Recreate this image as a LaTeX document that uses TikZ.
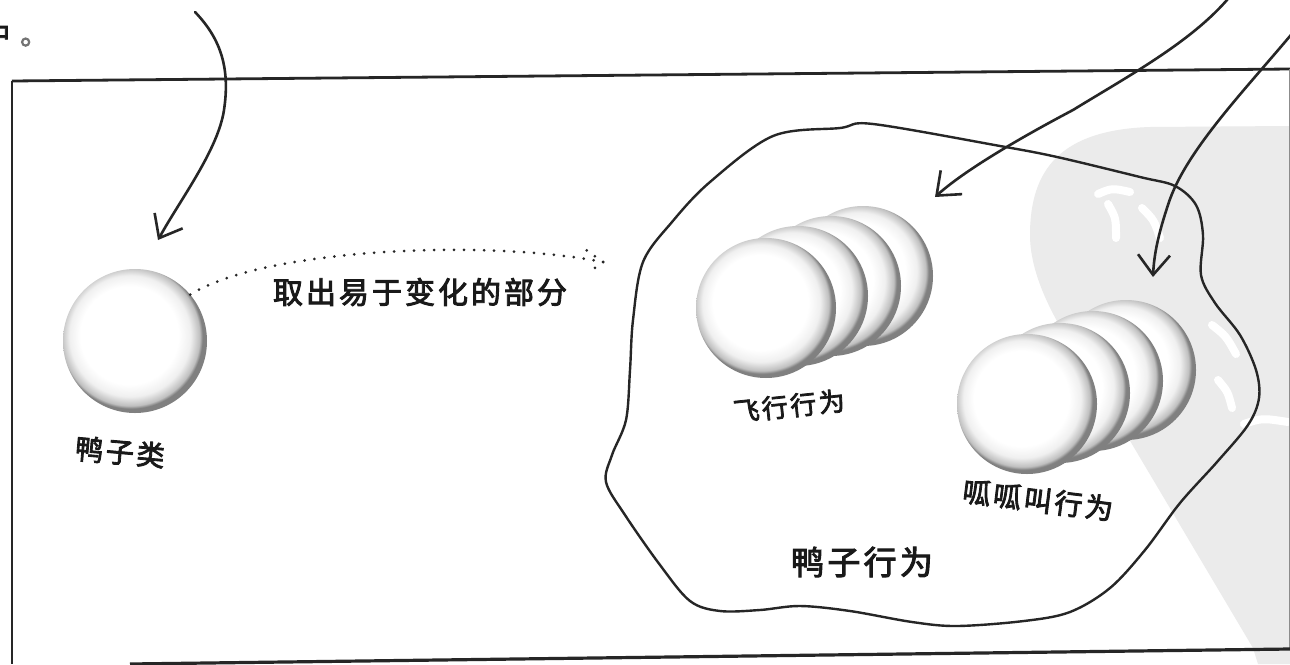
\documentclass[tikz,border=0pt]{standalone}
\usepackage{fontspec}
\newfontfamily\cjk{Noto Sans CJK SC}[LetterSpace=10, FakeBold=3]
\usetikzlibrary{arrows.meta}
\pgfdeclareradialshading{discshade}{\pgfpoint{-3bp}{3bp}}{color(0bp)=(white); color(17bp)=(white); color(21bp)=(black!6); color(24bp)=(black!25); color(25bp)=(black!50); color(50bp)=(black!50)}
\definecolor{ink}{HTML}{262626}
\definecolor{wm}{HTML}{EBEBEB}
\begin{document}
\begin{tikzpicture}[x=1pt,y=-1pt,
  inkline/.style={draw=ink, line width=2.6pt, line cap=round, line join=round},
  barbtip/.style={-{Straight Barb[length=20pt,width=32pt]}},
  dotline/.style={draw=ink, line width=3pt, line cap=round, dash pattern=on 0pt off 10pt},
  disc/.style={circle, inner sep=0pt, minimum size=140pt, shading=discshade},
  lab/.style={inner sep=0pt, text=black!90, font=\cjk\fontsize{#1}{#1}\selectfont},
  wmstroke/.style={draw=white, line width=8pt, line cap=round}]
\useasboundingbox (0,0) rectangle (1290,664);
\fill[white] (0,0) rectangle (1290,664);
% watermark
\fill[wm] (1290,126) -- (1150,127) .. controls (1060,130) and (1030,170) .. (1030,235)
  .. controls (1030,280) and (1060,330) .. (1085,365) -- (1253,648) -- (1258,664) -- (1290,664) -- cycle;
\draw[wmstroke] (1098,194) .. controls (1112,188) .. (1130,192);
\draw[wmstroke] (1108,204) .. controls (1116,218) .. (1116,238);
\draw[wmstroke] (1142,208) .. controls (1154,220) .. (1160,238);
\draw[wmstroke] (1212,325) .. controls (1226,336) .. (1236,354);
\draw[wmstroke] (1218,380) .. controls (1228,392) .. (1232,408);
\draw[wmstroke] (1244,424) .. controls (1262,418) .. (1288,422);
% frame
\coordinate (ftl) at (12,81);
\coordinate (ftr) at (1290,69);
\coordinate (fbl) at (12,664);
\coordinate (fbr) at (1290,649);
\draw[draw=ink, line width=2.8pt] (ftl) -- (ftr);
\draw[draw=ink, line width=2.2pt] (ftl) -- (fbl);
\draw[draw=black!45, line width=1pt] (1289,69) -- (1289,649);
\draw[draw=ink, line width=3.2pt] (130,664) -- (fbr);
% blob
\draw[draw=ink, line width=2.4pt] plot[smooth cycle, tension=0.55] coordinates {
 (873,124) (1000,146) (1057,157) (1140,177) (1175,186) (1196,205) (1203,235) (1201,275)
 (1215,303) (1240,335) (1256,370) (1259,398) (1248,425) (1217,462) (1180,503) (1145,550)
 (1110,588) (1070,612) (1024,621) (957,626) (912,622) (850,611) (800,606) (760,610)
 (720,611) (690,601) (660,565) (625,515) (606,482) (612,455) (626,420) (630,370)
 (633,320) (643,262) (672,222) (710,182) (773,136) (840,128)};
% spheres
\node[disc, minimum size=144pt] (duck) at (135,341) {};
\node[disc] (fly4) at (863,276) {};
\node[disc] (fly3) at (831,286) {};
\node[disc] (fly2) at (798,296) {};
\node[disc] (fly1) at (766,308) {};
\node[disc] (quack4) at (1126,370) {};
\node[disc] (quack3) at (1093,381) {};
\node[disc] (quack2) at (1060,393) {};
\node[disc] (quack1) at (1027,404) {};
% labels
\node[lab=28, rotate=-5] (duckl) at (120,452) {鸭子类};
\node[lab=30] (extract) at (420,292) {取出易于变化的部分};
\node[lab=26, rotate=6] (flyl) at (789,406) {飞行行为};
\node[lab=28, rotate=-7] (quackl) at (1038,500) {呱呱叫行为};
\node[lab=33] (behl) at (862,562) {鸭子行为};
\node[lab=28, anchor=west] (topl) at (-18,34) {中\hspace{10pt}\textcolor{black!55}{。}};
% dotted arrow
\coordinate (dottip) at (603,262);
\coordinate (dotb1) at (582,247);
\coordinate (dotb2) at (588,273);
\draw[dotline] (duck.40) .. controls (260,250) and (480,238) .. (dottip);
\draw[dotline] (dottip) -- (dotb1);
\draw[dotline] (dottip) -- (dotb2);
% arrows
\coordinate (a1s) at (195,12);
\coordinate (a1t) at (158,240);
\draw[inkline, barbtip] (a1s) .. controls (222,40) and (230,70) .. (224,110) .. controls (218,150) and (180,200) .. (a1t);
\coordinate (a2s) at (1232,-6);
\coordinate (a2t) at (935,197);
\draw[inkline, barbtip] (a2s) .. controls (1195,40) and (1130,75) .. (1073,110) .. controls (1020,138) and (965,170) .. (a2t);
\coordinate (a3s) at (1300,24);
\coordinate (a3t) at (1153,277);
\draw[inkline, barbtip] (a3s) .. controls (1250,85) and (1185,150) .. (1168,205) .. controls (1158,235) and (1154,255) .. (a3t);
\end{tikzpicture}
\end{document}
